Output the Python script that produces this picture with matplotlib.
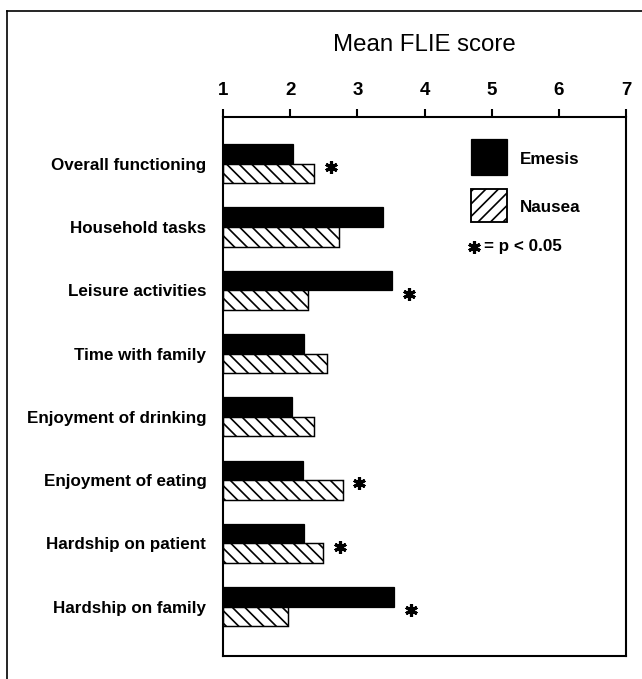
import matplotlib
matplotlib.use("Agg")
import matplotlib.pyplot as plt
import numpy as np
from matplotlib.patches import Rectangle
from matplotlib.lines import Line2D

plt.rcParams['font.family'] = ['Liberation Sans', 'DejaVu Sans']
plt.rcParams['hatch.linewidth'] = 1.6

# FLIE domains, top to bottom
categories = ['Overall functioning', 'Household tasks', 'Leisure activities',
              'Time with family', 'Enjoyment of drinking', 'Enjoyment of eating',
              'Hardship on patient', 'Hardship on family']
emesis = [2.04, 3.38, 3.52, 2.21, 2.03, 2.19, 2.20, 3.55]
nausea = [2.36, 2.72, 2.27, 2.55, 2.35, 2.78, 2.49, 1.97]
significant = [True, False, True, False, False, True, True, True]
xticks = [1, 2, 3, 4, 5, 6, 7]

W, H, DPI = 642, 679, 75
fig = plt.figure(figsize=(W / DPI, H / DPI), dpi=DPI)
ax = fig.add_axes([223 / W, 1 - 656 / H, 403 / W, 539 / H])

y = np.arange(len(categories))
h = 0.31
ax.barh(y - h / 2, np.array(emesis) - 1, left=1, height=h,
        color='black', edgecolor='black', linewidth=1.2)
ax.barh(y + h / 2, np.array(nausea) - 1, left=1, height=h,
        color='white', edgecolor='black', linewidth=1.4, hatch='\\\\')

# significance stars
star = dict(marker=(6, 2, 0), markersize=12, markeredgewidth=3, color='black')
for i in range(len(categories)):
    if significant[i]:
        ax.plot(max(emesis[i], nausea[i]) + 0.25, i + 0.05, **star)

ax.set_xlim(1, 7)
ax.set_ylim(len(categories) - 1 + 0.78, -0.74)
ax.xaxis.tick_top()
ax.set_xticks(xticks)
ax.set_xticklabels([str(t) for t in xticks], fontsize=18, fontweight='bold')
ax.tick_params(axis='x', direction='out', length=8, width=2, pad=9)
ax.set_yticks(y)
ax.set_yticklabels(categories, fontsize=16.3, fontweight='bold')
ax.tick_params(axis='y', length=0, pad=16)
for s in ax.spines.values():
    s.set_linewidth(2)

fig.text(424.5 / W, 1 - 45 / H, 'Mean FLIE score', fontsize=23,
         ha='center', va='center')

# legend drawn by hand
ax.add_patch(Rectangle((0.615, 0.892), 0.089, 0.067, transform=ax.transAxes,
                       facecolor='black', edgecolor='black', lw=1.2))
ax.add_patch(Rectangle((0.615, 0.805), 0.089, 0.061, transform=ax.transAxes,
                       facecolor='white', edgecolor='black', lw=1.8, hatch='//'))
ax.text(0.737, 0.922, 'Emesis', transform=ax.transAxes, fontsize=16.3,
        fontweight='bold', va='center')
ax.text(0.737, 0.833, 'Nausea', transform=ax.transAxes, fontsize=16.3,
        fontweight='bold', va='center')
ax.plot(0.624, 0.759, transform=ax.transAxes, **star)
ax.text(0.648, 0.759, '= p < 0.05', transform=ax.transAxes, fontsize=16.3,
        fontweight='bold', va='center')

# outer frame (runs off the right and bottom of the picture)
fig.add_artist(Line2D([7 / W, 1.0], [1 - 11 / H, 1 - 11 / H], color='black', lw=1.6))
fig.add_artist(Line2D([7 / W, 7 / W], [0.0, 1 - 11 / H], color='black', lw=1.6))

fig.savefig('out.png', dpi=DPI)
